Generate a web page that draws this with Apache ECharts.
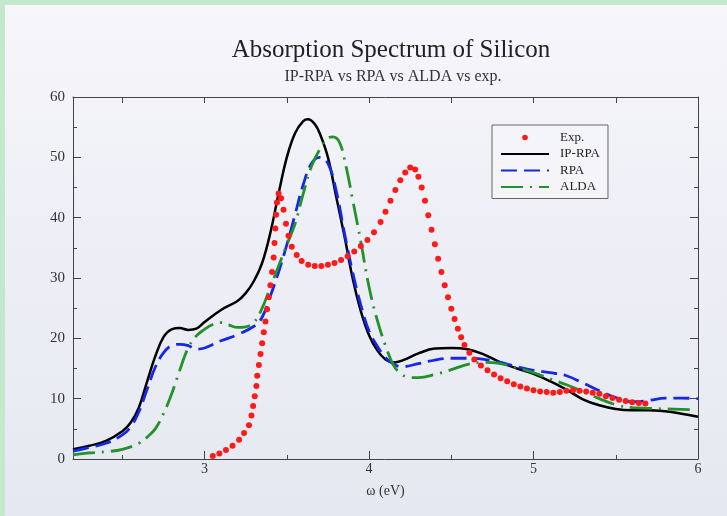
<!DOCTYPE html>
<html>
<head>
<meta charset="utf-8">
<script src="https://cdn.jsdelivr.net/npm/echarts@6/dist/echarts.min.js"></script>
<style>
  html, body { margin: 0; padding: 0; }
  body { width: 727px; height: 516px; background: #c4e8cc; position: relative; overflow: hidden; }
  #paper { position: absolute; left: 5px; top: 5px; width: 722px; height: 511px;
           background: linear-gradient(180deg, #f6f6fb 0%, #eeeff6 45%, #e6e8f1 100%); }
  #chart { position: absolute; left: -5px; top: -5px; width: 727px; height: 516px; }
</style>
</head>
<body>
<div id="paper"><div id="chart"></div></div>
<script>
// energy (eV) / absorption values
var expEnergy = [3.05, 3.09, 3.13, 3.17, 3.21, 3.24, 3.27, 3.285, 3.295, 3.305, 3.315, 3.32, 3.33, 3.34, 3.35, 3.36, 3.37, 3.38, 3.39, 3.40,
  3.41, 3.42, 3.425, 3.43, 3.435, 3.44, 3.45, 3.465, 3.48, 3.495, 3.51, 3.53, 3.56, 3.59, 3.63, 3.67, 3.71, 3.75, 3.79, 3.83,
  3.87, 3.91, 3.95, 3.99, 4.03, 4.07, 4.10, 4.13, 4.16, 4.19, 4.22, 4.25, 4.28, 4.30, 4.32, 4.34, 4.36, 4.38, 4.40, 4.42,
  4.44, 4.46, 4.48, 4.50, 4.52, 4.54, 4.56, 4.58, 4.61, 4.64, 4.68, 4.72, 4.76, 4.80, 4.84, 4.88, 4.92, 4.96, 5.00, 5.04,
  5.08, 5.12, 5.16, 5.20, 5.24, 5.28, 5.32, 5.36, 5.40, 5.44, 5.48, 5.52, 5.56, 5.60, 5.64, 5.68];
var expValues = [0.5, 0.9, 1.5, 2.2, 3.2, 4.3, 5.6, 7.2, 8.8, 10.4, 12.1, 13.8, 15.6, 17.4, 19.2, 21.0, 22.8, 24.8, 26.8, 28.8,
  31.0, 33.4, 35.8, 38.2, 40.5, 42.5, 44.0, 43.2, 41.3, 39.0, 37.0, 35.2, 33.8, 32.8, 32.2, 32.0, 32.0, 32.2, 32.5, 33.0,
  33.6, 34.4, 35.3, 36.3, 37.6, 39.3, 41.0, 42.8, 44.6, 46.2, 47.5, 48.3, 48.0, 46.8, 45.0, 42.8, 40.4, 38.0, 35.6, 33.2,
  31.0, 28.8, 26.8, 24.9, 23.2, 21.6, 20.2, 18.9, 17.6, 16.5, 15.5, 14.7, 14.0, 13.4, 12.9, 12.4, 12.0, 11.7, 11.4, 11.2,
  11.1, 11.0, 11.1, 11.3, 11.4, 11.3, 11.2, 11.0, 10.8, 10.4, 10.1, 9.8, 9.6, 9.4, 9.3, 9.2];

var ipEnergy = [2.2, 2.3, 2.4, 2.5, 2.55, 2.6, 2.65, 2.7, 2.75, 2.8, 2.85, 2.9, 2.95, 3.0, 3.1, 3.2, 3.25, 3.3, 3.35, 3.4,
  3.45, 3.5, 3.55, 3.6, 3.63, 3.67, 3.7, 3.75, 3.8, 3.85, 3.9, 3.95, 4.0, 4.05, 4.1, 4.15, 4.2, 4.3, 4.4, 4.5,
  4.6, 4.7, 4.8, 4.9, 5.0, 5.1, 5.2, 5.3, 5.4, 5.5, 5.6, 5.7, 5.8, 5.9, 6.0];
var ipValues = [1.6, 2.2, 3.0, 4.6, 6.0, 8.5, 12.8, 17.0, 20.2, 21.5, 21.7, 21.4, 21.6, 22.7, 24.7, 26.2, 27.5, 29.5, 32.5, 37.5,
  44.0, 50.0, 54.0, 56.0, 56.3, 55.5, 54.0, 50.0, 43.5, 37.0, 30.0, 24.5, 20.5, 18.0, 16.5, 16.0, 16.3, 17.5, 18.3, 18.4,
  18.2, 17.3, 16.0, 15.0, 14.1, 12.9, 11.5, 9.9, 8.9, 8.3, 8.1, 8.1, 7.9, 7.5, 7.0];

var rpaEnergy = [2.2, 2.3, 2.4, 2.5, 2.55, 2.6, 2.65, 2.7, 2.75, 2.8, 2.85, 2.9, 2.95, 3.0, 3.1, 3.2, 3.3, 3.35, 3.4, 3.45,
  3.5, 3.55, 3.6, 3.65, 3.7, 3.75, 3.8, 3.85, 3.9, 3.95, 4.0, 4.05, 4.1, 4.15, 4.2, 4.3, 4.4, 4.5, 4.6, 4.7,
  4.8, 4.9, 5.0, 5.1, 5.2, 5.3, 5.4, 5.5, 5.6, 5.7, 5.8, 5.9, 6.0];
var rpaValues = [1.3, 1.9, 2.6, 4.0, 5.3, 7.8, 11.5, 15.2, 17.6, 18.8, 19.0, 18.8, 18.2, 18.4, 19.6, 20.6, 22.0, 23.5, 27.0, 31.0,
  35.5, 40.5, 45.5, 49.0, 50.0, 49.0, 44.5, 37.5, 31.0, 25.5, 21.2, 18.7, 16.8, 15.7, 15.3, 15.8, 16.4, 16.7, 16.7, 16.5,
  16.0, 15.3, 14.7, 14.3, 13.8, 12.6, 11.3, 10.2, 9.5, 9.7, 10.1, 10.1, 10.0];

var aldaEnergy = [2.2, 2.3, 2.4, 2.5, 2.6, 2.65, 2.7, 2.75, 2.8, 2.85, 2.9, 2.95, 3.0, 3.05, 3.1, 3.15, 3.2, 3.25, 3.3, 3.35,
  3.4, 3.45, 3.5, 3.55, 3.6, 3.65, 3.7, 3.75, 3.78, 3.82, 3.86, 3.9, 3.95, 4.0, 4.05, 4.1, 4.15, 4.2, 4.25, 4.3,
  4.4, 4.5, 4.6, 4.7, 4.8, 4.9, 5.0, 5.1, 5.2, 5.3, 5.4, 5.5, 5.6, 5.7, 5.8, 5.95];
var aldaValues = [0.7, 1.0, 1.2, 1.6, 2.6, 3.6, 5.0, 7.5, 10.8, 14.8, 18.4, 20.4, 21.5, 22.3, 22.6, 22.2, 21.8, 21.9, 22.6, 25.0,
  28.5, 32.0, 35.5, 39.0, 44.0, 48.5, 51.3, 53.2, 53.4, 52.5, 48.5, 43.0, 36.0, 28.5, 23.0, 18.8, 15.5, 14.0, 13.5, 13.5,
  14.0, 14.8, 15.7, 16.0, 15.8, 15.1, 14.3, 13.3, 12.3, 11.2, 10.0, 9.0, 8.5, 8.4, 8.3, 8.2];

var xMajor = [3, 4, 5, 6];
var xMinor = [2.5, 3.5, 4.5, 5.5];
var xTop = [2.5, 3, 3.5, 4, 4.5, 5, 5.5];

function pairs(xs, ys) {
  var out = [];
  for (var i = 0; i < xs.length; i++) out.push([xs[i], ys[i]]);
  return out;
}

var serif = '"Liberation Serif", "DejaVu Serif", serif';
var chart = echarts.init(document.getElementById('chart'), null, { renderer: 'canvas' });

var option = {
  backgroundColor: 'transparent',
  animation: false,
  title: [
    { text: 'Absorption Spectrum of Silicon', left: 386, top: 33, textAlign: 'center',
      textStyle: { fontFamily: serif, fontSize: 25, fontWeight: 'normal', color: '#222' } },
    { text: 'IP-RPA vs RPA vs ALDA vs exp.', left: 388, top: 64, textAlign: 'center',
      textStyle: { fontFamily: serif, fontSize: 16, fontWeight: 'normal', color: '#333' } }
  ],
  grid: { left: 73, right: 29, top: 97, bottom: 57 },
  legend: {
    left: 492, top: 125, orient: 'vertical',
    padding: [6, 8, 5, 8], itemGap: 3.5, itemWidth: 48, itemHeight: 7,
    borderColor: '#666', borderWidth: 1, backgroundColor: 'rgba(246,246,250,0.6)',
    textStyle: { fontFamily: serif, fontSize: 13, color: '#222', padding: [0, 0, 0, 6] },
    data: [
      { name: 'Exp.' },
      { name: 'IP-RPA', itemStyle: { opacity: 0 } },
      { name: 'RPA', itemStyle: { opacity: 0 } },
      { name: 'ALDA', itemStyle: { opacity: 0 } }
    ]
  },
  xAxis: [
    { type: 'value', min: 2.2, max: 6, position: 'bottom',
      name: 'ω (eV)', nameLocation: 'middle', nameGap: 25,
      nameTextStyle: { fontFamily: serif, fontSize: 14, color: '#333' },
      axisLine: { lineStyle: { color: '#444', width: 1 } },
      axisTick: { inside: true, length: 8, customValues: xMajor, lineStyle: { color: '#444' } },
      axisLabel: { customValues: xMajor, margin: 3, fontFamily: serif, fontSize: 14, color: '#333' },
      splitLine: { show: false } },
    { type: 'value', min: 2.2, max: 6, position: 'bottom',
      axisLine: { show: false },
      axisTick: { inside: true, length: 4, customValues: xMinor, lineStyle: { color: '#444' } },
      axisLabel: { show: false }, splitLine: { show: false } },
    { type: 'value', min: 2.2, max: 6, position: 'top',
      axisLine: { lineStyle: { color: '#444', width: 1 } },
      axisTick: { inside: true, length: 6, customValues: xTop, lineStyle: { color: '#444' } },
      axisLabel: { show: false }, splitLine: { show: false } }
  ],
  yAxis: [
    { type: 'value', min: 0, max: 60, interval: 10, position: 'left',
      axisLine: { show: true, lineStyle: { color: '#444', width: 1 } },
      axisTick: { inside: true, length: 8, lineStyle: { color: '#444' } },
      minorTick: { show: true, splitNumber: 2, length: 4, lineStyle: { color: '#444' } },
      axisLabel: { margin: 8, fontFamily: serif, fontSize: 15, color: '#333' },
      splitLine: { show: false } },
    { type: 'value', min: 0, max: 60, interval: 10, position: 'right',
      axisLine: { show: true, lineStyle: { color: '#444', width: 1 } },
      axisTick: { inside: true, length: 8, lineStyle: { color: '#444' } },
      minorTick: { show: true, splitNumber: 2, length: 4, lineStyle: { color: '#444' } },
      axisLabel: { show: false }, splitLine: { show: false } }
  ],
  series: [
    { name: 'Exp.', type: 'line', data: pairs(expEnergy, expValues),
      symbol: 'circle', symbolSize: 6, showAllSymbol: true, z: 4,
      itemStyle: { color: '#ff1a1a' }, lineStyle: { opacity: 0, width: 0 } },
    { name: 'IP-RPA', type: 'line', data: pairs(ipEnergy, ipValues), smooth: 0.4,
      symbol: 'none', z: 3, itemStyle: { color: '#000' },
      lineStyle: { color: '#000', width: 2.5 } },
    { name: 'RPA', type: 'line', data: pairs(rpaEnergy, rpaValues), smooth: 0.4,
      symbol: 'none', z: 3, itemStyle: { color: '#1428e6' },
      lineStyle: { color: '#1428e6', width: 2.8, type: [16, 7] } },
    { name: 'ALDA', type: 'line', data: pairs(aldaEnergy, aldaValues), smooth: 0.4,
      symbol: 'none', z: 3, itemStyle: { color: '#23922a' },
      lineStyle: { color: '#23922a', width: 2.8, type: [22, 7, 2, 7] } }
  ]
};
chart.setOption(option);
</script>
</body>
</html>
